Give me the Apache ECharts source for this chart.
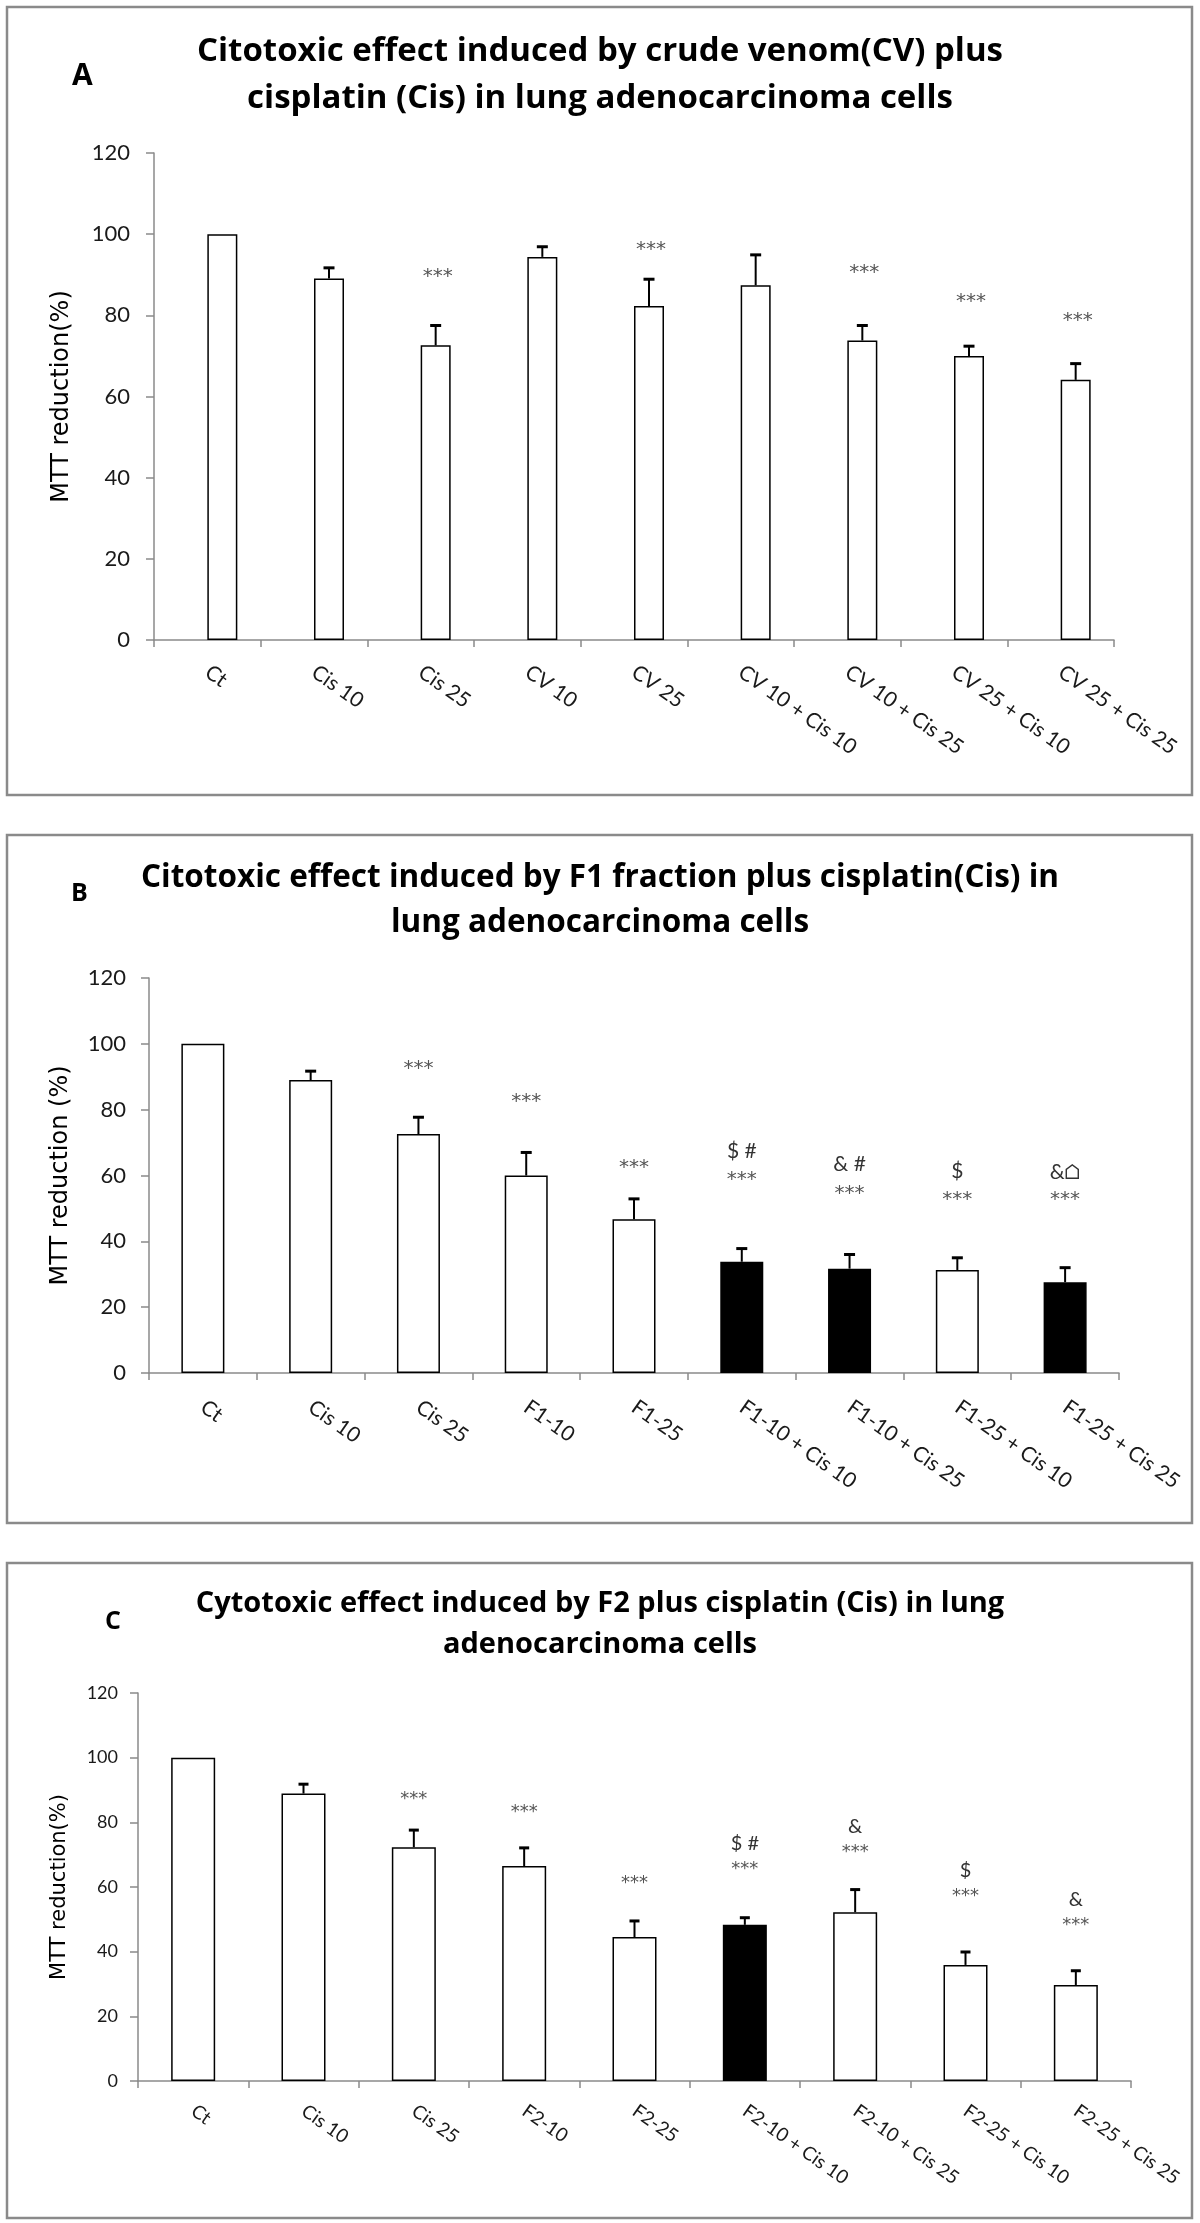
<!DOCTYPE html>
<html><head><meta charset="utf-8">
<script src="https://cdn.jsdelivr.net/npm/echarts/dist/echarts.min.js"></script>
<style>html,body{margin:0;padding:0;background:#fff}#c{width:1200px;height:2223px}</style>
</head><body><div id="c"></div>
<script>
// ---------- data ----------
const yTickMin = 0, yTickMax = 120, yTickStep = 20;

const catsA = ['Ct','Cis 10','Cis 25','CV 10','CV 25','CV 10 + Cis 10','CV 10 + Cis 25','CV 25 + Cis 10','CV 25 + Cis 25'];
const meanA = [100, 89.1, 72.6, 94.4, 82.3, 87.4, 73.8, 70.0, 64.1];
const sdA   = [null, 2.6, 4.9, 2.5, 6.6, 7.5, 3.7, 2.4, 4.0];
const starA = [null, null, 90.7, null, 97.5, null, 91.8, 84.6, 79.8];

const catsB = ['Ct','Cis 10','Cis 25','F1-10','F1-25','F1-10 + Cis 10','F1-10 + Cis 25','F1-25 + Cis 10','F1-25 + Cis 25'];
const meanB = [100, 89.0, 72.6, 60.0, 46.7, 33.8, 31.7, 31.3, 27.6];
const sdB   = [null, 2.7, 5.1, 7.0, 6.2, 4.0, 4.3, 3.7, 4.4];
const starB = [null, null, 93.8, 83.9, 64.0, 60.2, 56.0, 54.0, 54.0];
const markB  = [null, null, null, null, null, '$ #', '& #', '$', '&\u2302'];
const markBy = [null, null, null, null, null, 67.5, 63.3, 61.2, 60.9];
const blackB = [5, 6, 8];

const catsC = ['Ct','Cis 10','Cis 25','F2-10','F2-25','F2-10 + Cis 10','F2-10 + Cis 25','F2-25 + Cis 10','F2-25 + Cis 25'];
const meanC = [100, 88.9, 72.3, 66.5, 44.5, 48.3, 52.2, 35.9, 29.7];
const sdC   = [null, 2.9, 5.3, 5.6, 5.0, 2.2, 7.0, 4.0, 4.4];
const starC = [null, null, 88.2, 84.3, 62.5, 66.8, 71.9, 58.2, 49.3];
const markC  = [null, null, null, null, null, '$ #', '&', '$', '&'];
const markCy = [null, null, null, null, null, 73.5, 78.8, 65.2, 56.0];
const blackC = [5];

const titleA = 'Citotoxic effect induced by crude venom(CV) plus\ncisplatin (Cis) in lung adenocarcinoma cells';
const titleB = 'Citotoxic effect induced by F1 fraction plus cisplatin(Cis) in\nlung adenocarcinoma cells';
const titleC = 'Cytotoxic effect induced by F2 plus cisplatin (Cis) in lung\nadenocarcinoma cells';
const yNameA = 'MTT reduction(%)', yNameB = 'MTT reduction (%)', yNameC = 'MTT reduction(%)';

// ---------- styling / helpers ----------
const AX = '#8a8a8a';
const TF = '"Open Sans"';
function xAxisCfg(gi, cats, fs, margin) {
  return {
    type: 'category', gridIndex: gi, data: cats, boundaryGap: true,
    axisLine: {show: true, lineStyle: {color: AX, width: 1.5}},
    axisTick: {show: true, length: 7, alignWithLabel: false, lineStyle: {color: AX, width: 1.5}},
    axisLabel: {interval: 0, rotate: -35, margin: margin, fontFamily: 'Lato', fontSize: fs, color: '#1a1a1a'},
    splitLine: {show: false}
  };
}
function yAxisCfg(gi, name, fs, margin, nameGap, nameFs) {
  return {
    type: 'value', gridIndex: gi, min: yTickMin, max: yTickMax, interval: yTickStep,
    axisLine: {show: true, lineStyle: {color: AX, width: 1.5}},
    axisTick: {show: true, length: 8, lineStyle: {color: AX, width: 1.5}},
    axisLabel: {margin: margin, fontFamily: 'Lato', fontSize: fs, color: '#1a1a1a'},
    splitLine: {show: false},
    name: name, nameLocation: 'middle', nameGap: nameGap,
    nameTextStyle: {fontFamily: 'DejaVu Sans', fontSize: nameFs, color: '#000'}
  };
}
function barData(means, blacks) {
  return means.map((v, i) => ({
    value: v,
    itemStyle: {color: blacks.indexOf(i) >= 0 ? '#000' : '#fff', borderColor: '#000', borderWidth: 1.5}
  }));
}
function errSeries(gi, means, sds, offset, cap) {
  const data = [];
  means.forEach((m, i) => { if (sds[i] != null) data.push([i, m, m + sds[i]]); });
  return {
    type: 'custom', xAxisIndex: gi, yAxisIndex: gi, silent: true, z: 5,
    encode: {x: 0, y: [1, 2]}, data: data,
    renderItem: function (params, api) {
      const lo = api.coord([api.value(0), api.value(1)]);
      const hi = api.coord([api.value(0), api.value(2)]);
      const cx = lo[0] + offset;
      return {type: 'group', children: [
        {type: 'line', shape: {x1: cx, y1: lo[1], x2: cx, y2: hi[1]}, style: {stroke: '#000', lineWidth: 2}},
        {type: 'line', shape: {x1: cx - cap / 2, y1: hi[1], x2: cx + cap / 2, y2: hi[1]}, style: {stroke: '#000', lineWidth: 3}}
      ]};
    }
  };
}
function textSeries(gi, ys, texts, offset, font, color, dy) {
  const data = [], labels = [];
  ys.forEach((y, i) => { if (y != null) { data.push([i, y]); labels.push(texts[i]); } });
  return {
    type: 'custom', xAxisIndex: gi, yAxisIndex: gi, silent: true, z: 6,
    encode: {x: 0, y: 1}, data: data,
    renderItem: function (params, api) {
      const p = api.coord([api.value(0), api.value(1)]);
      return {type: 'text', x: p[0] + offset, y: p[1] + dy,
        style: {text: labels[params.dataIndex], font: font, fill: color, align: 'center', verticalAlign: 'middle'}};
    }
  };
}
const stars = arr => arr.map(v => v == null ? null : '***');

const option = {
  backgroundColor: '#fff',
  animation: false,
  title: [
    {text: titleA, left: 'center', top: 28, padding: 0, textStyle: {fontFamily: TF, fontWeight: 'bold', fontSize: 33, lineHeight: 47, color: '#000'}},
    {text: titleB, left: 'center', top: 856, padding: 0, textStyle: {fontFamily: TF, fontWeight: 'bold', fontSize: 31.5, lineHeight: 45, color: '#000'}},
    {text: titleC, left: 'center', top: 1583, padding: 0, textStyle: {fontFamily: TF, fontWeight: 'bold', fontSize: 29, lineHeight: 41, color: '#000'}},
    {text: 'A', left: 72, top: 61, padding: 0, textStyle: {fontFamily: TF, fontWeight: 'bold', fontSize: 30, lineHeight: 30, color: '#000'}},
    {text: 'B', left: 71, top: 881, padding: 0, textStyle: {fontFamily: TF, fontWeight: 'bold', fontSize: 25, lineHeight: 26, color: '#000'}},
    {text: 'C', left: 105, top: 1609, padding: 0, textStyle: {fontFamily: TF, fontWeight: 'bold', fontSize: 25, lineHeight: 26, color: '#000'}}
  ],
  graphic: [
    {type: 'rect', silent: true, shape: {x: 7, y: 7, width: 1185, height: 788}, style: {fill: 'none', stroke: '#8a8a8a', lineWidth: 2.5}},
    {type: 'rect', silent: true, shape: {x: 7, y: 835, width: 1185, height: 688}, style: {fill: 'none', stroke: '#8a8a8a', lineWidth: 2.5}},
    {type: 'rect', silent: true, shape: {x: 7, y: 1563, width: 1185, height: 655}, style: {fill: 'none', stroke: '#8a8a8a', lineWidth: 2.5}}
  ],
  grid: [
    {left: 154, top: 153, width: 960, height: 487, outerBoundsMode: 'none'},
    {left: 149, top: 978, width: 970, height: 395, outerBoundsMode: 'none'},
    {left: 138, top: 1693, width: 993, height: 388, outerBoundsMode: 'none'}
  ],
  xAxis: [xAxisCfg(0, catsA, 21, 30), xAxisCfg(1, catsB, 21, 32), xAxisCfg(2, catsC, 19, 28)],
  yAxis: [yAxisCfg(0, yNameA, 22, 24, 80, 24), yAxisCfg(1, yNameB, 22, 23, 76, 24), yAxisCfg(2, yNameC, 18, 20, 68, 21)],
  series: [
    // panel A: empty first slot so each bar sits right of its category centre
    {type: 'bar', xAxisIndex: 0, yAxisIndex: 0, data: [], barWidth: 30, barGap: '0%'},
    {type: 'bar', xAxisIndex: 0, yAxisIndex: 0, data: barData(meanA, []), barWidth: 30, barGap: '0%'},
    errSeries(0, meanA, sdA, 15, 11),
    textSeries(0, starA, stars(starA), 17, '20px "DejaVu Sans"', '#555', 5),
    // panel B
    {type: 'bar', xAxisIndex: 1, yAxisIndex: 1, data: barData(meanB, blackB), barWidth: 43},
    errSeries(1, meanB, sdB, 0, 11),
    textSeries(1, starB, stars(starB), 0, '20px "DejaVu Sans"', '#555', 5),
    textSeries(1, markBy, markB, 0, '21px Lato', '#333', 0),
    // panel C
    {type: 'bar', xAxisIndex: 2, yAxisIndex: 2, data: barData(meanC, blackC), barWidth: 44},
    errSeries(2, meanC, sdC, 0, 10),
    textSeries(2, starC, stars(starC), 0, '18px "DejaVu Sans"', '#555', 4),
    textSeries(2, markCy, markC, 0, '20px Lato', '#333', 0)
  ]
};
const chart = echarts.init(document.getElementById('c'), null, {renderer: 'canvas'});
chart.setOption(option);
</script></body></html>
